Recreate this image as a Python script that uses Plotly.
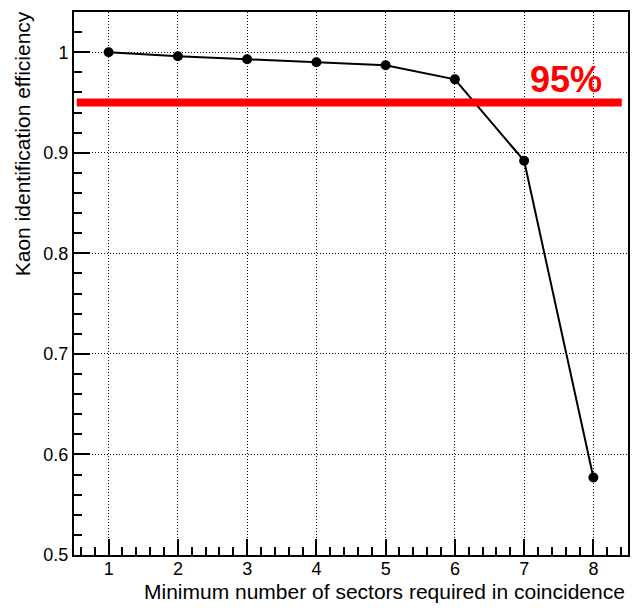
import plotly.graph_objects as go

sectors = [1, 2, 3, 4, 5, 6, 7, 8]
efficiency = [1.0, 0.996, 0.993, 0.990, 0.987, 0.973, 0.892, 0.577]
threshold = 0.95
threshold_label = "95%"
x_title = "Minimum number of sectors required in coincidence"
y_title = "Kaon identification efficiency"

FONT = "Liberation Sans, Arial, Helvetica, sans-serif"

fig = go.Figure()
fig.add_trace(go.Scatter(
    x=sectors, y=efficiency, mode="lines+markers",
    line=dict(color="black", width=2),
    marker=dict(color="black", size=10, symbol="circle"),
    showlegend=False,
))

fig.add_shape(type="line", xref="x", yref="y",
              x0=0.54, x1=8.41, y0=threshold, y1=threshold,
              line=dict(color="#ff0000", width=8))

fig.add_annotation(x=7.06, y=0.9724, xref="x", yref="y",
                   text="<b>" + threshold_label + "</b>", showarrow=False,
                   xanchor="left", yanchor="middle",
                   font=dict(family=FONT, size=36, color="#ff0000"))

fig.add_annotation(x=0.998, y=-0.068, xref="paper", yref="paper",
                   text=x_title, showarrow=False, xanchor="right", yanchor="middle",
                   font=dict(family=FONT, size=21, color="black"))
fig.add_annotation(x=-0.093, y=1.005, xref="paper", yref="paper",
                   text=y_title, showarrow=False, textangle=-90,
                   xanchor="center", yanchor="top",
                   font=dict(family=FONT, size=21, color="black"))

grid_dash = "1px,2px"

fig.update_xaxes(range=[0.5, 8.5], tickmode="linear", tick0=1, dtick=1,
                 ticks="inside", ticklen=16, tickwidth=1.5, tickcolor="black",
                 minor=dict(dtick=0.2, tick0=0, ticks="inside", ticklen=8,
                            tickwidth=1.5, tickcolor="black", showgrid=False),
                 showgrid=True, gridcolor="black", griddash=grid_dash, gridwidth=1,
                 showline=True, linecolor="black", linewidth=2, mirror=True,
                 zeroline=False, automargin=False, ticklabelstandoff=-4,
                 tickfont=dict(family=FONT, size=18, color="black"))
fig.update_yaxes(range=[0.5, 1.04], tickmode="linear", tick0=0.5, dtick=0.1,
                 ticks="inside", ticklen=16, tickwidth=1.5, tickcolor="black",
                 minor=dict(dtick=0.02, tick0=0.5, ticks="inside", ticklen=8,
                            tickwidth=1.5, tickcolor="black", showgrid=False),
                 showgrid=True, gridcolor="black", griddash=grid_dash, gridwidth=1,
                 showline=True, linecolor="black", linewidth=2, mirror=True,
                 zeroline=False, automargin=False,
                 tickfont=dict(family=FONT, size=18, color="black"))

fig.update_layout(width=636, height=613,
                  margin=dict(l=74, r=8, t=12, b=58, autoexpand=False),
                  paper_bgcolor="white", plot_bgcolor="white",
                  font=dict(family=FONT, color="black"))

fig.write_html("out.html")
